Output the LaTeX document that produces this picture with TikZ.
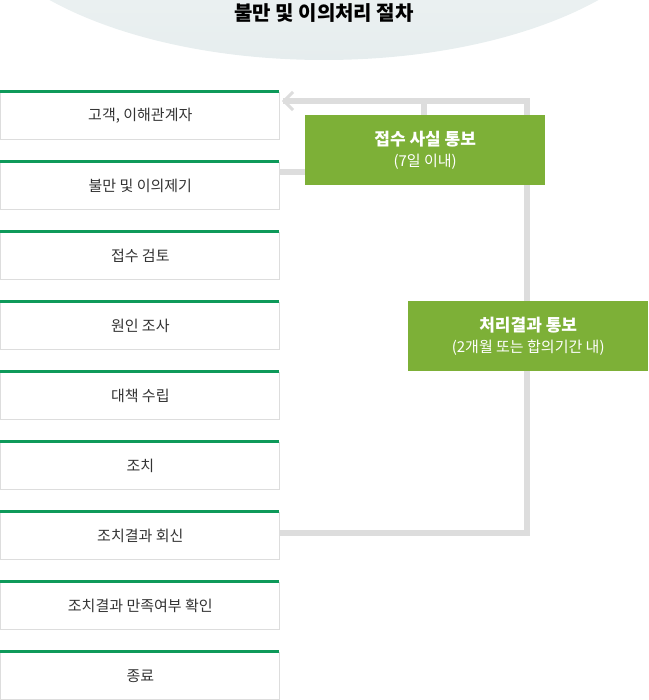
\documentclass[tikz,border=0pt]{standalone}
\usepackage{fontspec}
\setmainfont{Noto Sans CJK KR}
\usetikzlibrary{arrows.meta}
\definecolor{lg}{HTML}{DDDDDD}
\definecolor{gr}{HTML}{0E9A5A}
\definecolor{ol}{HTML}{7DB037}
\definecolor{el}{HTML}{E6EDEE}
\begin{document}
\begin{tikzpicture}[x=1pt,y=-1pt,
  stepbox/.style={draw=lg,line width=0.8pt,minimum width=279pt,minimum height=47pt,anchor=north west,inner sep=0pt,font=\fontsize{15}{18}\selectfont,text=black!80},
  notebox/.style={fill=ol,text=white,anchor=north west,minimum width=240pt,minimum height=70pt,inner sep=0pt,align=center,font=\fontsize{15}{21}\selectfont},
  conn/.style={lg,line width=6pt}]
\useasboundingbox (0,0) rectangle (648,700);
\begin{scope}
\clip (0,0) rectangle (648,700);
\shade[top color=white,bottom color=el,draw=none] (324,-110) ellipse (360pt and 170pt);
\end{scope}
\node[font=\bfseries\fontsize{20}{24}\selectfont] (title) at (324,13) {불만 및 이의처리 절차};
\foreach \t [count=\i from 0] in {{고객, 이해관계자},{불만 및 이의제기},{접수 검토},{원인 조사},{대책 수립},{조치},{조치결과 회신},{조치결과 만족여부 확인},{종료}}{
  \node[stepbox] (s\i) at (0.4,{92+70*\i}) {\t};
  \draw[gr,line width=3pt] (0,{91.5+70*\i}) -- (279,{91.5+70*\i});
}
\coordinate (tr) at (527,101);
\coordinate (br) at (527,533);
\coordinate (mid) at (424,101);
\coordinate (tip) at (283,101);
\draw[conn] (s6.east |- br) -- (br) -- (tr) -- (tip);
\draw[lg,line width=3pt] (293,92) -- (284,101) -- (293,110);
\draw[conn] (mid) -- (424,118);
\draw[conn] (279,172) -- (308,172);
\node[notebox] (n1) at (305,115) {\textbf{\fontsize{17}{21}\selectfont 접수 사실 통보}\\(7일 이내)};
\node[notebox] (n2) at (408,301) {\textbf{\fontsize{17}{21}\selectfont 처리결과 통보}\\(2개월 또는 합의기간 내)};
\end{tikzpicture}
\end{document}
